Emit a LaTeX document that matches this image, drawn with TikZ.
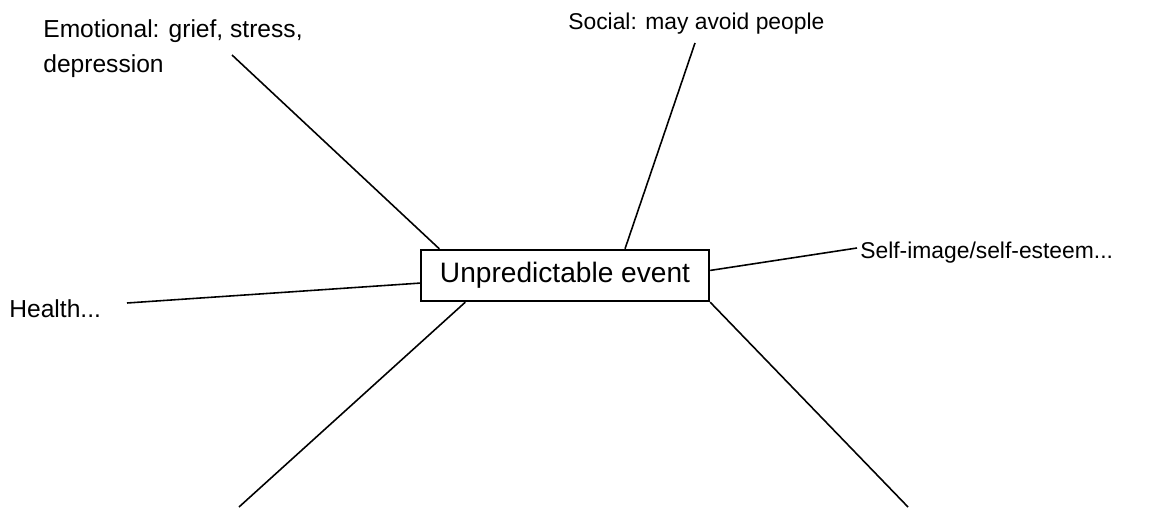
\documentclass[tikz,border=0pt]{standalone}
\usepackage{fontspec}
\setmainfont{Liberation Sans}
\begin{document}
\begin{tikzpicture}[x=0.02cm, y=-0.02cm,
box/.style={draw, line width=1.4pt, minimum width=5.76cm, minimum height=1.02cm,
            inner sep=0pt, font=\fontsize{16}{19}\selectfont},
lbl/.style={inner sep=0pt, align=left, font=\fontsize{13}{20}\selectfont},
big/.style={font=\fontsize{14}{20}\selectfont},
arr/.style={line width=0.9pt}]
\useasboundingbox (0,0) rectangle (1159,513);
\node[box] (ev) at (565,275.5) {Unpredictable event};
\node[lbl, big, anchor=north west] (emo) at (43,19) {Emotional: grief, stress,\\depression};
\node[lbl, anchor=base west] (soc)  at (568,30)  {Social: may avoid people};
\node[lbl, anchor=base west] (self) at (860,258) {Self-image/self-esteem...};
\node[lbl, big, anchor=base west] (hl) at (9,317) {Health...};
%
\coordinate (emo-e)  at (232,55);
\coordinate (soc-e)  at (695,43);
\coordinate (self-e) at (857,248);
\coordinate (hl-e)   at (127,303);
\coordinate (bl)     at (239,507);
\coordinate (br)     at (908,507);
%
\draw[arr] (emo-e)  -- (ev.168);
\draw[arr] (soc-e)  -- (ev.24.5);
\draw[arr] (self-e) -- (ev.2);
\draw[arr] (hl-e)   -- (ev.183);
\draw[arr] (bl)     -- (ev.195);
\draw[arr] (br)     -- (ev.south east);
\end{tikzpicture}
\end{document}
